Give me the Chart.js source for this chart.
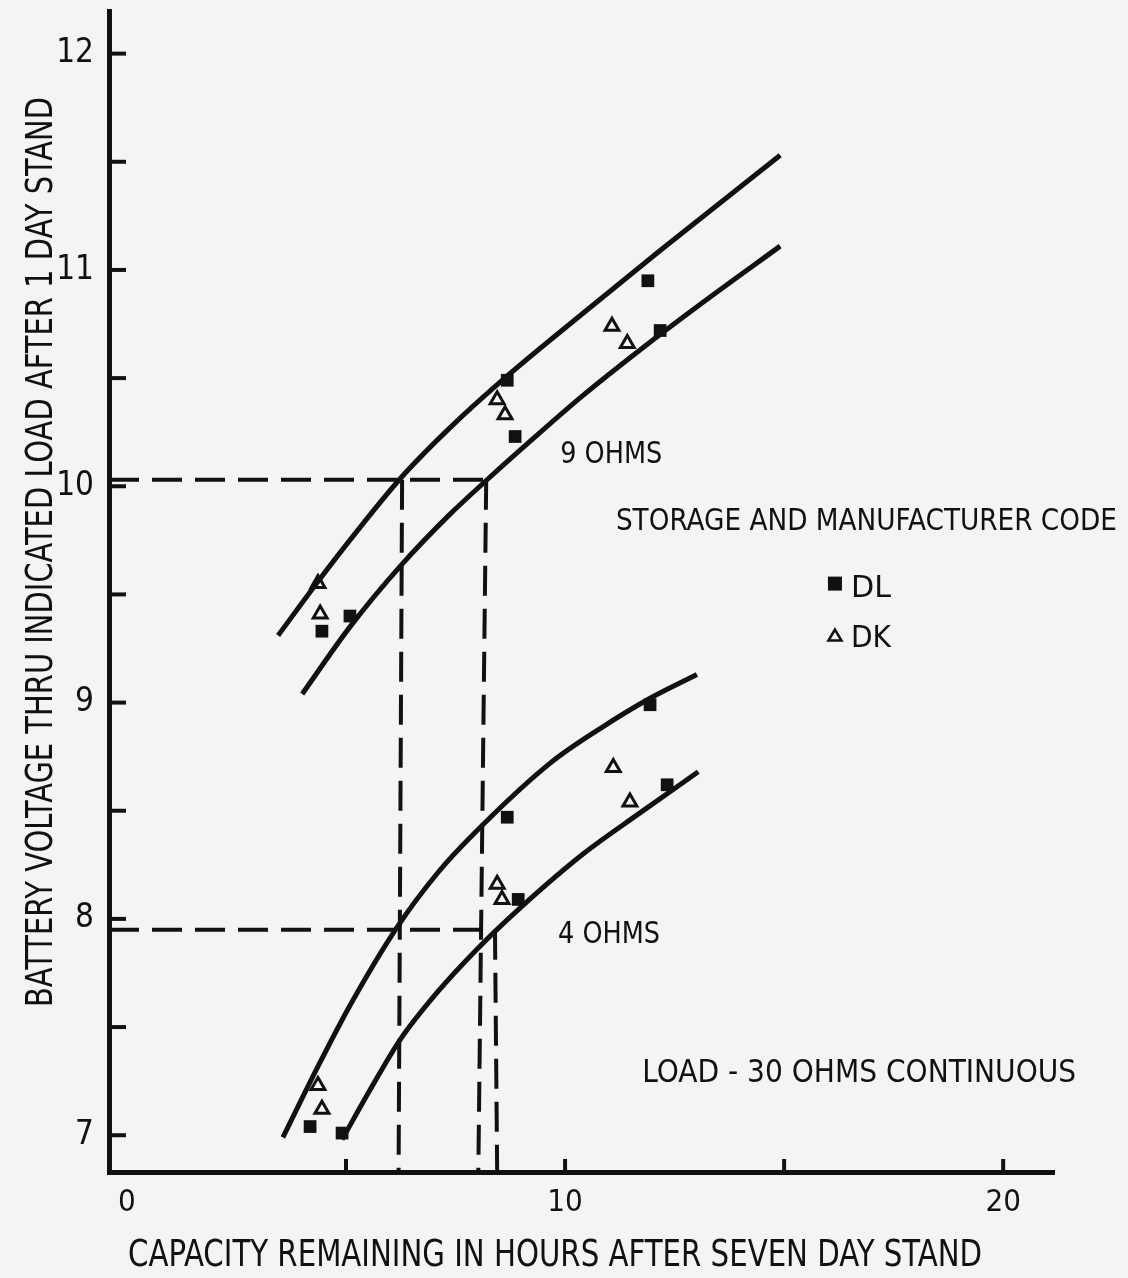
<!DOCTYPE html>
<html>
<head>
<meta charset="utf-8">
<title>Battery voltage vs capacity remaining</title>
<script src="https://cdn.jsdelivr.net/npm/chart.js@4.4.1/dist/chart.umd.min.js"></script>
<style>
  html, body { margin: 0; padding: 0; background: #f4f4f2; }
  #wrap { position: relative; width: 1128px; height: 1278px; }
</style>
</head>
<body>
<div id="wrap"><canvas id="chart"></canvas></div>
<script>
const FONT = '"Liberation Sans Narrow", "DejaVu Sans Condensed", "Arial Narrow", sans-serif';
const INK = '#111';
const PAPER = '#f4f4f2';

// axis ticks
const xTicks = [0, 5, 10, 15, 20];
const xTickLabels = ['0', '', '10', '', '20'];
const yTicks = [7, 7.5, 8, 8.5, 9, 9.5, 10, 10.5, 11, 11.5, 12];
const yTickLabels = ['7', '', '8', '', '9', '', '10', '', '11', '', '12'];

// hand-fitted curves (x = hours, y = volts)
const ohm9UpperX = [3.45, 4.36, 5.32, 6.28, 7.37, 8.68, 10.41, 12.17, 14.91];
const ohm9UpperY = [9.31, 9.56, 9.81, 10.045, 10.27, 10.51, 10.80, 11.09, 11.53];
const ohm9LowerX = [4.00, 5.09, 6.28, 7.37, 8.22, 9.27, 10.41, 11.71, 13.08, 14.91];
const ohm9LowerY = [9.04, 9.35, 9.64, 9.87, 10.03, 10.22, 10.42, 10.63, 10.84, 11.11];
const ohm4UpperX = [3.56, 4.34, 5.09, 6.16, 7.08, 7.90, 9.66, 10.80, 11.94, 13.01];
const ohm4UpperY = [6.99, 7.31, 7.60, 7.96, 8.21, 8.39, 8.72, 8.88, 9.02, 9.13];
const ohm4LowerX = [4.91, 5.55, 6.23, 7.08, 7.99, 8.97, 10.41, 11.71, 13.04];
const ohm4LowerY = [6.98, 7.21, 7.44, 7.66, 7.86, 8.05, 8.30, 8.49, 8.68];

// measured cells, storage and manufacturer code
const dlX = [4.45, 5.09, 8.68, 8.86, 11.89, 12.17, 4.18, 4.91, 8.68, 8.93, 11.94, 12.33];
const dlY = [9.33, 9.40, 10.49, 10.23, 10.95, 10.72, 7.04, 7.01, 8.47, 8.09, 8.99, 8.62];
const dkX = [4.36, 4.41, 8.45, 8.63, 11.07, 11.42, 4.36, 4.45, 8.45, 8.56, 11.10, 11.48];
const dkY = [9.55, 9.41, 10.40, 10.33, 10.74, 10.66, 7.23, 7.12, 8.16, 8.09, 8.70, 8.54];

// dashed read-off lines
const readH10X = [-0.41, 8.22];
const readH10Y = [10.03, 10.03];
const readV1X = [6.28, 6.20];
const readV1Y = [10.03, 6.83];
const readV2X = [8.20, 8.02];
const readV2Y = [10.03, 6.83];
const readH8X = [-0.41, 8.40];
const readH8Y = [7.95, 7.95];
const readV3X = [8.40, 8.45];
const readV3Y = [7.95, 6.83];

function zip(xs, ys) {
  return xs.map((x, i) => ({ x: x, y: ys[i] }));
}

function curve(xs, ys) {
  return {
    data: zip(xs, ys),
    showLine: true,
    borderColor: INK,
    borderWidth: 5,
    pointRadius: 0,
    cubicInterpolationMode: 'monotone',
    borderCapStyle: 'butt'
  };
}

function dashed(xs, ys) {
  return {
    data: zip(xs, ys),
    showLine: true,
    borderColor: INK,
    borderWidth: 4,
    borderDash: [30, 13],
    pointRadius: 0,
    tension: 0
  };
}

// draw text squeezed to a given width, y is the middle of the capitals
function txt(ctx, s, x, y, size, width, align) {
  ctx.save();
  ctx.font = size + 'px ' + FONT;
  ctx.textAlign = 'left';
  ctx.textBaseline = 'alphabetic';
  const w = ctx.measureText(s).width;
  const k = width / w;
  let left = x;
  if (align === 'center') left = x - width / 2;
  ctx.translate(left, y + size * 0.36);
  ctx.scale(k, 1);
  ctx.fillText(s, 0, 0);
  ctx.restore();
}

const paperPlugin = {
  id: 'paper',
  beforeDraw(chart) {
    const ctx = chart.ctx;
    ctx.save();
    ctx.fillStyle = PAPER;
    ctx.fillRect(0, 0, chart.width, chart.height);
    ctx.restore();
  },
  afterDraw(chart) {
    const { ctx, chartArea, scales } = chart;
    const x = scales.x, y = scales.y;
    ctx.save();
    ctx.strokeStyle = INK;
    ctx.fillStyle = INK;
    ctx.lineWidth = 4;

    // inward tick marks
    yTicks.forEach(v => {
      const py = y.getPixelForValue(v);
      ctx.beginPath();
      ctx.moveTo(chartArea.left, py);
      ctx.lineTo(chartArea.left + 17, py);
      ctx.stroke();
    });
    xTicks.filter(v => v > 0).forEach(v => {
      const px = x.getPixelForValue(v);
      ctx.beginPath();
      ctx.moveTo(px, chartArea.bottom);
      ctx.lineTo(px, chartArea.bottom - 13);
      ctx.stroke();
    });

    // axis titles
    txt(ctx, 'CAPACITY REMAINING IN HOURS AFTER SEVEN DAY STAND', 555, 1253, 37, 854, 'center');
    ctx.save();
    ctx.translate(38, 552);
    ctx.rotate(-Math.PI / 2);
    txt(ctx, 'BATTERY VOLTAGE THRU INDICATED LOAD AFTER 1 DAY STAND', 0, 0, 38, 910, 'center');
    ctx.restore();

    // annotations placed in data units
    const at = (hx, vy) => [x.getPixelForValue(hx), y.getPixelForValue(vy)];
    let p;
    p = at(9.89, 10.16); txt(ctx, '9 OHMS', p[0], p[1], 31, 102);
    p = at(11.16, 9.85); txt(ctx, 'STORAGE AND MANUFACTURER CODE', p[0], p[1], 31, 501);
    p = at(9.84, 7.94); txt(ctx, '4 OHMS', p[0], p[1], 31, 102);
    p = at(11.76, 7.30); txt(ctx, 'LOAD - 30 OHMS CONTINUOUS', p[0], p[1], 32, 434);

    // legend
    p = at(16.16, 9.55);
    ctx.fillRect(p[0] - 7, p[1] - 7, 14, 14);
    txt(ctx, 'DL', p[0] + 16, p[1] + 2, 31, 40);
    p = at(16.16, 9.31);
    ctx.lineWidth = 2.5;
    ctx.beginPath();
    ctx.moveTo(p[0], p[1] - 6);
    ctx.lineTo(p[0] + 6.5, p[1] + 5);
    ctx.lineTo(p[0] - 6.5, p[1] + 5);
    ctx.closePath();
    ctx.stroke();
    txt(ctx, 'DK', p[0] + 16, p[1], 31, 40);

    ctx.restore();
  }
};

new Chart(document.getElementById('chart'), {
  type: 'scatter',
  data: {
    datasets: [
      {
        label: 'DK',
        data: zip(dkX, dkY),
        pointStyle: 'triangle',
        pointRadius: 8,
        borderWidth: 3,
        borderColor: INK,
        backgroundColor: 'rgba(0,0,0,0)'
      },
      {
        label: 'DL',
        data: zip(dlX, dlY),
        pointStyle: 'rect',
        pointRadius: 9,
        borderWidth: 0,
        backgroundColor: INK
      },
      curve(ohm9UpperX, ohm9UpperY),
      curve(ohm9LowerX, ohm9LowerY),
      curve(ohm4UpperX, ohm4UpperY),
      curve(ohm4LowerX, ohm4LowerY),
      dashed(readH10X, readH10Y),
      dashed(readV1X, readV1Y),
      dashed(readV2X, readV2Y),
      dashed(readH8X, readH8Y),
      dashed(readV3X, readV3Y)
    ]
  },
  options: {
    responsive: true,
    maintainAspectRatio: false,
    animation: false,
    events: [],
    layout: { padding: { left: 0, top: 10, right: 74, bottom: 0 } },
    plugins: {
      legend: { display: false },
      tooltip: { enabled: false }
    },
    scales: {
      x: {
        type: 'linear',
        min: -0.41,
        max: 21.16,
        grid: { display: false, drawTicks: false },
        border: { display: true, width: 5, color: INK },
        afterBuildTicks: s => { s.ticks = xTicks.map(v => ({ value: v })); },
        afterFit: s => { s.height = 106; s.paddingLeft = 0; s.paddingRight = 0; },
        ticks: {
          autoSkip: false,
          maxRotation: 0,
          padding: 12,
          color: INK,
          font: { family: FONT, size: 31 },
          callback: (v, i) => xTickLabels[i]
        }
      },
      y: {
        type: 'linear',
        min: 6.83,
        max: 12.197,
        grid: { display: false, drawTicks: false },
        border: { display: true, width: 5, color: INK },
        afterBuildTicks: s => { s.ticks = yTicks.map(v => ({ value: v })); },
        afterFit: s => { s.width = 109; s.paddingTop = 0; s.paddingBottom = 0; },
        ticks: {
          autoSkip: false,
          padding: 15,
          color: INK,
          font: { family: FONT, size: 33 },
          callback: (v, i) => yTickLabels[i]
        }
      }
    }
  },
  plugins: [paperPlugin]
});
</script>
</body>
</html>
